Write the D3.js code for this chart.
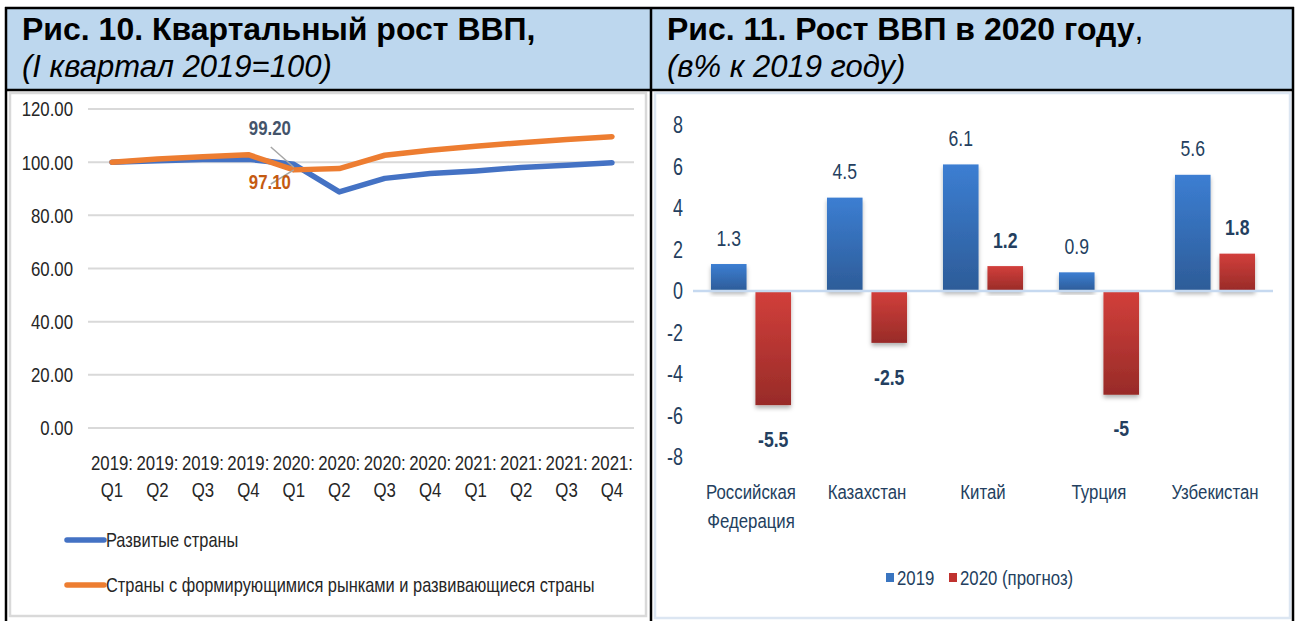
<!DOCTYPE html>
<html>
<head>
<meta charset="utf-8">
<script src="https://cdn.jsdelivr.net/npm/d3@7"></script>
<style>
  html, body { margin: 0; padding: 0; background: #fff; }
  svg { display: block; }
  .narrow { font-family: "Liberation Sans", Arial, sans-serif; }
  .title { font-family: "Liberation Sans", Arial, sans-serif; }
</style>
</head>
<body>
<svg id="page" width="1298" height="621"></svg>
<script>
// --- left chart: quarterly GDP (Q1 2019 = 100)
const quarters = ["2019:|Q1", "2019:|Q2", "2019:|Q3", "2019:|Q4", "2020:|Q1", "2020:|Q2",
                  "2020:|Q3", "2020:|Q4", "2021:|Q1", "2021:|Q2", "2021:|Q3", "2021:|Q4"];
const developed = [100, 100.5, 101, 101.1, 99.2, 88.8, 93.9, 95.7, 96.7, 98, 98.8, 99.8];
const emerging  = [100, 101.2, 102, 102.8, 97.1, 97.6, 102.6, 104.5, 106, 107.3, 108.5, 109.6];
const lineNames = ["Развитые страны", "Страны с формирующимися рынками и развивающиеся страны"];
const leftTicks = [0, 20, 40, 60, 80, 100, 120];

// --- right chart: GDP growth 2020 (% to 2019)
const countries = ["Российская|Федерация", "Казахстан", "Китай", "Турция", "Узбекистан"];
const growth2019 = [1.3, 4.5, 6.1, 0.9, 5.6];
const growth2020 = [-5.5, -2.5, 1.2, -5, 1.8];
const barSeries = ["2019", "2020 (прогноз)"];
const rightTicks = [-8, -6, -4, -2, 0, 2, 4, 6, 8];

// no narrow font in the box, so squeeze the glyphs horizontally around an anchor x
const squeeze = (el, cx, k) =>
  el.attr("transform", `translate(${cx},0) scale(${k},1) translate(${-cx},0)`);

const svg = d3.select("#page");
const defs = svg.append("defs");

// ---------- table frame ----------
svg.append("rect").attr("x", 6).attr("y", 8).attr("width", 1287).attr("height", 82).attr("fill", "#bdd7ee");
svg.append("rect").attr("x", 10).attr("y", 93).attr("width", 636).attr("height", 523)
  .attr("fill", "none").attr("stroke", "#d9d9d9").attr("stroke-width", 2.5);
svg.append("rect").attr("x", 655).attr("y", 93).attr("width", 635).attr("height", 525)
  .attr("fill", "none").attr("stroke", "#dce6f2").attr("stroke-width", 2.5);

const frame = svg.append("g").attr("stroke", "#000").attr("stroke-width", 2.5);
frame.append("line").attr("x1", 5).attr("x2", 1294).attr("y1", 8).attr("y2", 8);
frame.append("line").attr("x1", 5).attr("x2", 1294).attr("y1", 90).attr("y2", 90);
frame.append("line").attr("x1", 6).attr("x2", 6).attr("y1", 7).attr("y2", 621);
frame.append("line").attr("x1", 651).attr("x2", 651).attr("y1", 7).attr("y2", 621);
frame.append("line").attr("x1", 1293).attr("x2", 1293).attr("y1", 7).attr("y2", 621);

// titles
svg.append("text").attr("class", "title").attr("x", 22).attr("y", 40)
  .attr("font-size", 32).attr("font-weight", "bold").attr("fill", "#000")
  .text("Рис. 10. Квартальный рост ВВП,");
svg.append("text").attr("class", "title").attr("x", 22).attr("y", 77)
  .attr("font-size", 31).attr("font-style", "italic").attr("fill", "#000")
  .text("(I квартал 2019=100)");
const t2 = svg.append("text").attr("class", "title").attr("x", 667).attr("y", 40)
  .attr("font-size", 32).attr("fill", "#000");
t2.append("tspan").attr("font-weight", "bold").text("Рис. 11. Рост ВВП в 2020 году");
t2.append("tspan").text(",");
svg.append("text").attr("class", "title").attr("x", 667).attr("y", 77)
  .attr("font-size", 31).attr("font-style", "italic").attr("fill", "#000")
  .text("(в% к 2019 году)");

// ---------- left chart ----------
const yL = d3.scaleLinear().domain([0, 120]).range([428, 109]);
const xL = d3.scalePoint().domain(quarters).range([112, 612]);
const kL = 0.8;

const left = svg.append("g").attr("class", "narrow");

left.append("g").selectAll("line").data(leftTicks).join("line")
  .attr("x1", 88).attr("x2", 634)
  .attr("y1", d => yL(d)).attr("y2", d => yL(d))
  .attr("stroke", "#d9d9d9").attr("stroke-width", 2);

left.append("g").selectAll("text").data(leftTicks).join("text")
  .attr("x", 73).attr("y", d => yL(d)).attr("dy", "0.35em")
  .attr("text-anchor", "end").attr("font-size", 21).attr("fill", "#262626")
  .text(d => d3.format(".2f")(d))
  .call(s => squeeze(s, 73, kL));

const qLab = left.append("g").selectAll("text").data(quarters).join("text")
  .attr("text-anchor", "middle").attr("font-size", 21).attr("fill", "#262626")
  .attr("transform", d => `translate(${xL(d)},0) scale(${kL},1)`);
qLab.append("tspan").attr("x", 0).attr("y", 470).text(d => d.split("|")[0]);
qLab.append("tspan").attr("x", 0).attr("y", 497).text(d => d.split("|")[1]);

const line = d3.line().x((d, i) => xL(quarters[i])).y(d => yL(d));
const lineColors = ["#4472c4", "#ed7d31"];
[developed, emerging].forEach((s, k) => {
  left.append("path").datum(s).attr("d", line)
    .attr("fill", "none").attr("stroke", lineColors[k]).attr("stroke-width", 5.5)
    .attr("stroke-linejoin", "round").attr("stroke-linecap", "round");
});

// callouts for 2020 Q1
const q = quarters[4];
const callouts = [
  { v: developed[4], ly: 128, sy: 147, color: "#44546a" },
  { v: emerging[4], ly: 182, sy: 184, color: "#c55a11" }
];
callouts.forEach(c => {
  left.append("line")
    .attr("x1", xL(q) - 23).attr("y1", c.sy)
    .attr("x2", xL(q)).attr("y2", yL(c.v) + (c.sy < yL(c.v) ? 3 : 0))
    .attr("stroke", "#a6a6a6").attr("stroke-width", 1.5);
  left.append("text").attr("x", xL(q) - 24).attr("y", c.ly).attr("dy", "0.35em")
    .attr("text-anchor", "middle").attr("font-size", 21).attr("font-weight", "bold")
    .attr("fill", c.color).text(d3.format(".2f")(c.v))
    .call(s => squeeze(s, xL(q) - 24, kL));
});

// legend
lineNames.forEach((name, k) => {
  const ly = 540 + k * 45;
  left.append("line").attr("x1", 67).attr("x2", 104).attr("y1", ly).attr("y2", ly)
    .attr("stroke", lineColors[k]).attr("stroke-width", 5.5).attr("stroke-linecap", "round");
  left.append("text").attr("x", 106).attr("y", ly).attr("dy", "0.35em")
    .attr("font-size", 20).attr("fill", "#262626").text(name)
    .call(s => squeeze(s, 106, 0.82));
});

// ---------- right chart ----------
const yR = d3.scaleLinear().domain([-8, 8]).range([457, 125]);
const x0 = d3.scaleBand().domain(countries).range([693, 1273]).paddingInner(0.31).paddingOuter(0.155);
const x1 = d3.scaleBand().domain(barSeries).range([0, x0.bandwidth()]).paddingInner(0.2);
const navy = "#243f60";
const kR = 0.8;

const gradBlue = defs.append("linearGradient").attr("id", "gBlue").attr("x1", 0).attr("x2", 0).attr("y1", 0).attr("y2", 1);
gradBlue.append("stop").attr("offset", "0%").attr("stop-color", "#3c7ed2");
gradBlue.append("stop").attr("offset", "100%").attr("stop-color", "#2d5c98");
const gradRed = defs.append("linearGradient").attr("id", "gRed").attr("x1", 0).attr("x2", 0).attr("y1", 0).attr("y2", 1);
gradRed.append("stop").attr("offset", "0%").attr("stop-color", "#d23f3b");
gradRed.append("stop").attr("offset", "100%").attr("stop-color", "#982b28");
const shadow = defs.append("filter").attr("id", "shadow").attr("x", "-20%").attr("y", "-20%").attr("width", "140%").attr("height", "140%");
shadow.append("feDropShadow").attr("dx", 0).attr("dy", 3).attr("stdDeviation", 2)
  .attr("flood-color", "#000").attr("flood-opacity", 0.3);

const right = svg.append("g").attr("class", "narrow");

right.append("g").selectAll("text").data(rightTicks).join("text")
  .attr("x", 683).attr("y", d => yR(d)).attr("dy", "0.35em")
  .attr("text-anchor", "end").attr("font-size", 23).attr("fill", navy)
  .text(d => d < 0 ? "-" + Math.abs(d) : d)
  .call(s => squeeze(s, 683, 0.78));

const rows = countries.map((c, i) => ({ c, vals: [growth2019[i], growth2020[i]] }));
const groups = right.append("g").selectAll("g").data(rows).join("g")
  .attr("transform", d => `translate(${x0(d.c)},0)`);

groups.selectAll("rect").data(d => d.vals.map((v, k) => ({ v, k }))).join("rect")
  .attr("x", d => x1(barSeries[d.k]))
  .attr("y", d => yR(Math.max(0, d.v)))
  .attr("width", x1.bandwidth())
  .attr("height", d => Math.abs(yR(d.v) - yR(0)))
  .attr("fill", d => d.k === 0 ? "url(#gBlue)" : "url(#gRed)")
  .attr("filter", "url(#shadow)");

groups.selectAll("text.val").data(d => d.vals.map((v, k) => ({ v, k }))).join("text")
  .attr("class", "val")
  .attr("transform", d => `translate(${x1(barSeries[d.k]) + x1.bandwidth() / 2},0) scale(${kR},1)`)
  .attr("x", 0)
  .attr("y", d => d.v >= 0 ? yR(d.v) - 26 : yR(d.v) + 34)
  .attr("dy", "0.35em").attr("text-anchor", "middle")
  .attr("font-size", 22).attr("font-weight", d => d.k === 1 ? "bold" : "normal")
  .attr("fill", navy)
  .text(d => d.v < 0 ? "-" + Math.abs(d.v) : d.v);

right.append("line").attr("x1", 693).attr("x2", 1273).attr("y1", yR(0)).attr("y2", yR(0))
  .attr("stroke", "#c6d9f0").attr("stroke-width", 2.5);

const cLab = right.append("g").selectAll("text").data(countries).join("text")
  .attr("text-anchor", "middle").attr("font-size", 21).attr("fill", navy)
  .attr("transform", d => `translate(${x0(d) + x0.bandwidth() / 2},0) scale(${kR},1)`);
cLab.each(function (d) {
  d.split("|").forEach((part, i) => {
    d3.select(this).append("tspan").attr("x", 0).attr("y", 499 + i * 29).text(part);
  });
});

// legend
const legendX = [886, 949];
barSeries.forEach((name, k) => {
  right.append("rect").attr("x", legendX[k]).attr("y", 573).attr("width", 8).attr("height", 9)
    .attr("fill", k === 0 ? "#3a75c0" : "#c0322f");
  right.append("text").attr("x", legendX[k] + 11).attr("y", 578).attr("dy", "0.35em")
    .attr("font-size", 21).attr("fill", navy).text(name)
    .call(s => squeeze(s, legendX[k] + 11, kR));
});
</script>
</body>
</html>
